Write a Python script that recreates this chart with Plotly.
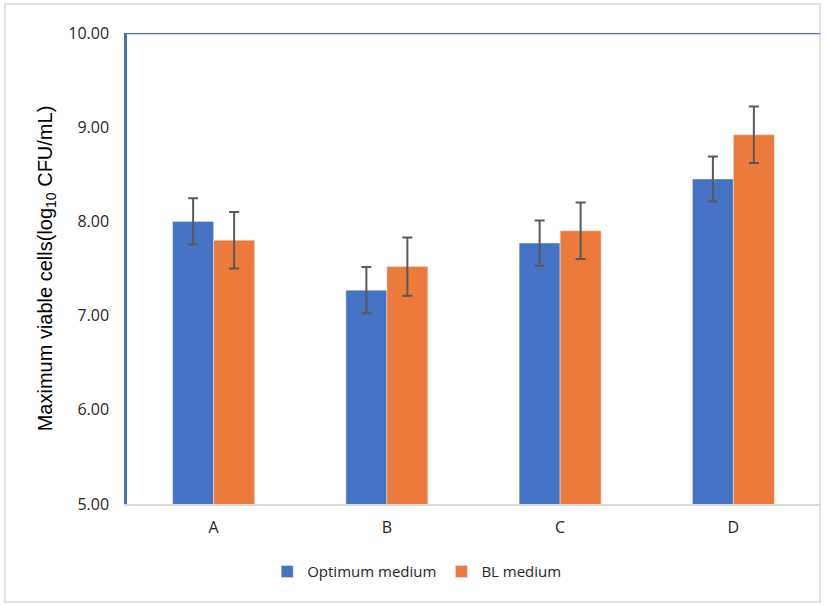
import plotly.graph_objects as go

categories = ["A", "B", "C", "D"]
optimum = [8.00, 7.27, 7.77, 8.45]
optimum_err = [0.245, 0.245, 0.24, 0.24]
bl = [7.80, 7.52, 7.90, 8.92]
bl_err = [0.30, 0.31, 0.30, 0.30]

BLUE = "#4472C4"
ORANGE = "#EB7A3B"
ERR = "#595959"

fig = go.Figure()
fig.add_trace(go.Bar(
    x=categories, y=optimum, name="Optimum medium", marker_color=BLUE,
    error_y=dict(type="data", array=optimum_err, color=ERR, thickness=2, width=5),
))
fig.add_trace(go.Bar(
    x=categories, y=bl, name="BL medium", marker_color=ORANGE,
    error_y=dict(type="data", array=bl_err, color=ERR, thickness=2, width=5),
))

fig.update_layout(
    width=827, height=605,
    margin=dict(l=127, r=7, t=33, b=101),
    paper_bgcolor="white", plot_bgcolor="white",
    barmode="group", bargap=0.527, bargroupgap=0,
    font=dict(family="Open Sans", color="#262626"),
    legend=dict(orientation="h", x=0.418, xanchor="center", y=-0.144, yanchor="middle",
                font=dict(size=15, family="Open Sans", color="#262626"),
                itemwidth=30, traceorder="normal"),
    xaxis=dict(showline=True, linecolor="#d9d9d9", linewidth=1.5,
               ticks="outside", ticklen=8, tickcolor="rgba(0,0,0,0)",
               tickfont=dict(size=16, family="Open Sans", color="#262626")),
    yaxis=dict(range=[5, 10], dtick=1, tickformat=".2f", showgrid=False, zeroline=False,
               showline=True, linecolor=BLUE, linewidth=2.5,
               ticks="outside", ticklen=12, tickcolor="rgba(0,0,0,0)",
               tickfont=dict(size=16, family="Open Sans", color="#262626"),
               title=dict(text="Maximum viable cells(log<sub>10</sub> CFU/mL)",
                          font=dict(size=20, family="Liberation Sans", color="#000000"),
                          standoff=11)),
    shapes=[
        dict(type="line", xref="paper", yref="y", x0=0, x1=1, y0=10, y1=10,
             line=dict(color=BLUE, width=2.5)),
        dict(type="rect", xref="paper", yref="paper", x0=-0.176, x1=1.0, y0=-0.208, y1=1.0616,
             line=dict(color="#d9d9d9", width=1.5), fillcolor="rgba(0,0,0,0)", layer="below"),
    ],
)

fig.write_html("out.html", config={"displayModeBar": False},
               post_script="document.body.style.margin='0';")
